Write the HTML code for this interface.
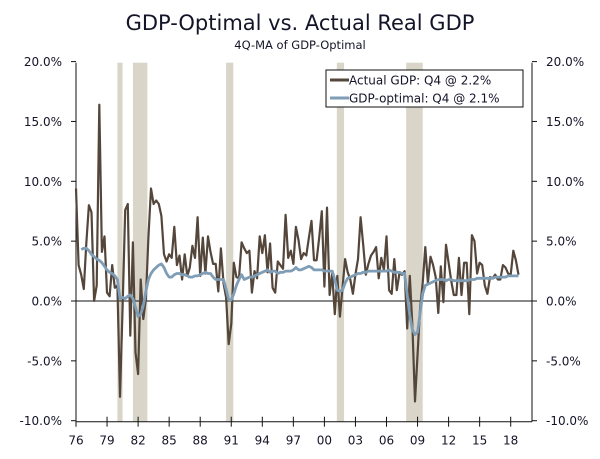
<!DOCTYPE html>
<html><head><meta charset="utf-8"><style>
body{margin:0;background:#fff;}
svg text{font-family:"DejaVu Sans","Liberation Sans",sans-serif;fill:#141428;}
</style></head><body>
<svg id="chart" width="600" height="454" viewBox="0 0 600 454" xmlns="http://www.w3.org/2000/svg">
<text x="300" y="30" text-anchor="middle" font-size="21">GDP-Optimal vs. Actual Real GDP</text>
<text x="300" y="49" text-anchor="middle" font-size="11.5">4Q-MA of GDP-Optimal</text>
<g id="bands"></g>
<g id="axes"></g>
<g id="series"></g>
<g>
<rect x="326" y="70" width="197" height="37" fill="#fff" stroke="#111" stroke-width="1"/>
<line x1="330" y1="80" x2="349" y2="80" stroke="#54463a" stroke-width="3"/>
<text x="349" y="84.5" font-size="12">Actual GDP: Q4 @ 2.2%</text>
<line x1="330" y1="98" x2="349" y2="98" stroke="#7f9db5" stroke-width="3"/>
<text x="349" y="102.5" font-size="12">GDP-optimal: Q4 @ 2.1%</text>
</g>
</svg>
<script>
const actualStart = 1976;
const actualValues = [9.4,3.0,2.2,1.0, 4.8,8.0,7.4,0.0, 1.3,16.4,4.1,5.4, 0.7,0.4,3.0,1.1, 1.3,-8.0,-0.5,7.6, 8.1,-2.9,4.9,-4.3, -6.1,1.8,-1.5,0.2, 5.3,9.4,8.1,8.4, 8.1,7.1,3.9,3.3, 3.9,3.6,6.2,3.0, 3.8,1.8,3.9,2.1, 2.8,4.6,3.6,7.0, 2.1,5.3,2.3,5.4, 4.1,3.1,3.1,0.8, 4.4,1.5,0.3,-3.6, -1.9,3.2,2.0,1.9, 4.9,4.4,4.0,4.2, 0.7,2.5,1.9,5.4, 4.0,5.5,2.4,4.8, 1.1,0.7,3.3,3.0, 2.7,7.2,3.6,4.2, 3.1,6.2,5.1,3.5, 4.0,3.8,5.3,6.7, 3.4,3.4,5.3,7.5, 1.2,7.8,0.5,2.3, -1.1,2.1,-1.3,1.1, 3.5,2.4,1.8,0.6, 2.2,3.5,7.0,4.7, 2.2,3.1,3.8,4.1, 4.5,1.9,3.6,2.6, 5.4,0.9,0.6,3.5, 0.9,2.3,2.2,2.5, -2.3,2.1,-2.1,-8.4, -4.4,-0.6,1.5,4.5, 1.5,3.7,3.0,2.0, -1.0,2.9,-0.1,4.7, 3.2,1.7,0.5,0.5, 3.6,0.5,3.2,3.2, -1.1,5.5,5.0,2.3, 3.2,3.0,1.3,0.6, 2.0,1.9,2.2,1.8, 1.8,3.0,2.8,2.3, 2.2,4.2,3.4,2.2];
const optimalStart = 1976.5;
const optimalValues = [4.3,4.4, 4.4,4.2,3.9,3.7, 3.5,3.4,3.2,2.9, 2.6,2.4,2.3,2.1, 1.8,0.2,0.3,0.2, 0.4,0.5,0.2,-0.5, -1.3,-1.1,-0.4,0.8, 1.8,2.3,2.6,2.8, 3.0,3.1,2.8,2.3, 2.0,2.0,2.2,2.3, 2.3,2.2,2.2,2.1, 2.0,2.0,2.1,2.1, 2.2,2.3,2.4,2.3, 2.3,2.0,1.8,1.8, 1.8,1.8,1.0,0.1, 0.1,0.6,1.3,1.8, 2.2,1.8,1.9,2.0, 2.0,2.1,2.2,2.3, 2.4,2.5,2.6,2.4, 2.5,2.5,2.3,2.4, 2.4,2.5,2.5,2.5, 2.6,2.8,2.6,2.6, 2.7,2.8,2.9,2.8, 2.6,2.6,2.6,2.6, 2.5,2.5,2.5,2.5, 1.8,0.9,0.8,0.9, 1.5,1.9,2.0,2.1, 2.2,2.3,2.3,2.4, 2.4,2.5,2.5,2.5, 2.5,2.5,2.5,2.5, 2.5,2.6,2.5,2.4, 2.4,2.4,2.3,2.3, 0.5,-1.2,-2.4,-2.8, -2.6,-1.0,0.6,1.3, 1.4,1.5,1.6,1.7, 1.8,1.8,1.8,1.7, 1.8,1.8,1.7,1.7, 1.7,1.7,1.7,1.7, 1.8,1.8,1.8,1.9, 1.9,1.9,1.9,1.9, 1.9,1.9,2.0,2.0, 2.0,2.0,2.0,2.1, 2.1,2.1,2.1,2.1];
const recessionStarts = [1980.0, 1981.5, 1990.5, 2001.2, 2007.9];
const recessionEnds = [1980.5, 1982.9, 1991.2, 2001.9, 2009.5];
const yTicks = [20,15,10,5,0,-5,-10];
const yTickLabels = ["20.0%","15.0%","10.0%","5.0%","0.0%","-5.0%","-10.0%"];
const xTickYears = [1976,1979,1982,1985,1988,1991,1994,1997,2000,2003,2006,2009,2012,2015,2018];
const xTickLabels = ["76","79","82","85","88","91","94","97","00","03","06","09","12","15","18"];

const NS = "http://www.w3.org/2000/svg";
const L = 76, R = 532, T = 62.7, B = 421.7;
const x = yr => L + (yr - 1976) * 10.35;
const y = v => 301 - v * 11.97;
function mk(tag, attrs, parent){const e=document.createElementNS(NS,tag);for(const k in attrs)e.setAttribute(k,attrs[k]);parent.appendChild(e);return e;}

const bands = document.getElementById('bands');
recessionStarts.forEach((s,i)=>{
  const r = mk('rect',{x:x(s),y:T,width:x(recessionEnds[i])-x(s),height:B-T,fill:'#d9d5c9'},bands);
  
  
});

const ax = document.getElementById('axes');
mk('line',{x1:L,y1:y(0),x2:R,y2:y(0),stroke:'#111','stroke-width':1},ax);
mk('line',{x1:L,y1:T,x2:L,y2:B,stroke:'#111','stroke-width':1},ax);
mk('line',{x1:R,y1:T,x2:R,y2:B,stroke:'#111','stroke-width':1},ax);
mk('line',{x1:L,y1:B,x2:R,y2:B,stroke:'#111','stroke-width':1},ax);
yTicks.forEach((v,i)=>{
  mk('line',{x1:L-5,y1:y(v),x2:L,y2:y(v),stroke:'#111'},ax);
  mk('line',{x1:R,y1:y(v),x2:R+5,y2:y(v),stroke:'#111'},ax);
  const t1 = mk('text',{x:L-14,y:y(v)+4.5,'text-anchor':'end','font-size':12},ax);
  t1.textContent = yTickLabels[i];
  
  
  const t2 = mk('text',{x:R+14,y:y(v)+4.5,'text-anchor':'start','font-size':12},ax);
  t2.textContent = yTickLabels[i];
  
  
});
xTickYears.forEach((yr,i)=>{
  mk('line',{x1:x(yr),y1:B-5,x2:x(yr),y2:B+5,stroke:'#111'},ax);
  const t = mk('text',{x:x(yr),y:B+23,'text-anchor':'middle','font-size':12},ax);
  t.textContent = xTickLabels[i];
  
  
});

const ser = document.getElementById('series');
const pa = actualValues.map((v,i)=>x(actualStart+i*0.25).toFixed(1)+','+y(v).toFixed(1)).join(' ');
const p1 = mk('polyline',{points:pa,fill:'none',stroke:'#54463a','stroke-width':2.2,'stroke-linejoin':'round'},ser);


const po = optimalValues.map((v,i)=>x(optimalStart+i*0.25).toFixed(1)+','+y(v).toFixed(1)).join(' ');
const p2 = mk('polyline',{points:po,fill:'none',stroke:'#7f9db5','stroke-width':2.8,'stroke-linejoin':'round'},ser);


</script>
</body></html>
